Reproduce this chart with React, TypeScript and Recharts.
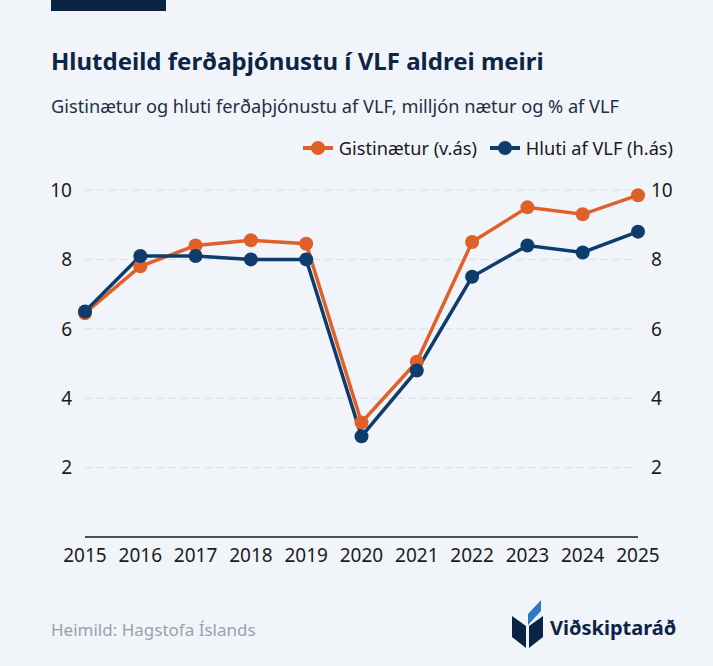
import React from 'react';
import { LineChart, Line, XAxis, YAxis, CartesianGrid } from 'recharts';

const years = ['2015', '2016', '2017', '2018', '2019', '2020', '2021', '2022', '2023', '2024', '2025'];
const gistinaetur = [6.45, 7.8, 8.4, 8.55, 8.45, 3.3, 5.05, 8.5, 9.5, 9.3, 9.85];
const hlutiVLF = [6.5, 8.1, 8.1, 8.0, 8.0, 2.9, 4.8, 7.5, 8.4, 8.2, 8.8];
const yTicks = [2, 4, 6, 8, 10];

const data = years.map((y, i) => ({ year: y, gist: gistinaetur[i], hluti: hlutiVLF[i] }));

const BG = '#f1f5fa';
const ORANGE = '#e0602a';
const BLUE = '#0e3d6d';
const NAVY = '#0d2447';
const FONT = '"Noto Sans", sans-serif';

const tickStyle = { fill: '#1b1b1b', fontSize: 19, fontFamily: FONT };

function LegendItem({ color, label }: { color: string; label: string }) {
  return (
    <div style={{ display: 'flex', alignItems: 'center', marginLeft: 12 }}>
      <svg width={32} height={16} style={{ marginRight: 5 }}>
        <line x1={1} y1={8} x2={31} y2={8} stroke={color} strokeWidth={4} />
        <circle cx={16} cy={8} r={7} fill={color} />
      </svg>
      <span>{label}</span>
    </div>
  );
}

export default function App() {
  return (
    <div style={{ position: 'absolute', left: 0, top: 0, width: 713, height: 666, background: BG, overflow: 'hidden', fontFamily: FONT }}>
      <div style={{ position: 'absolute', left: 51, top: 0, width: 115, height: 11, background: '#0b2444' }} />
      <div style={{ position: 'absolute', left: 51, top: 44, fontSize: 24, fontWeight: 700, color: NAVY, whiteSpace: 'nowrap' }}>
        Hlutdeild ferðaþjónustu í VLF aldrei meiri
      </div>
      <div style={{ position: 'absolute', left: 51, top: 94, fontSize: 18.2, color: '#1f2f45', whiteSpace: 'nowrap' }}>
        Gistinætur og hluti ferðaþjónustu af VLF, milljón nætur og % af VLF
      </div>
      <div style={{ position: 'absolute', right: 40, top: 136, display: 'flex', fontSize: 18.2, color: '#1b1b1b', whiteSpace: 'nowrap' }}>
        <LegendItem color={ORANGE} label="Gistinætur (v.ás)" />
        <LegendItem color={BLUE} label="Hluti af VLF (h.ás)" />
      </div>
      <div style={{ position: 'absolute', left: 0, top: 0 }}>
        <LineChart width={713} height={600} data={data} margin={{ top: 190, right: 0, bottom: 33, left: 0 }}>
          <CartesianGrid yAxisId="left" vertical={false} stroke="#d7dce3" strokeDasharray="7 5" />
          <XAxis
            dataKey="year"
            interval={0}
            tickLine={false}
            tickSize={0}
            tickMargin={12}
            axisLine={{ stroke: '#1b1b1b', strokeWidth: 1.5 }}
            tick={tickStyle}
            height={30}
          />
          <YAxis
            yAxisId="left"
            domain={[0, 10]}
            ticks={yTicks}
            axisLine={false}
            tickLine={false}
            tickSize={0}
            tickMargin={13}
            width={85}
            tick={tickStyle}
          />
          <YAxis
            yAxisId="right"
            orientation="right"
            domain={[0, 10]}
            ticks={yTicks}
            axisLine={false}
            tickLine={false}
            tickSize={0}
            tickMargin={13}
            width={75}
            tick={tickStyle}
          />
          <Line
            yAxisId="left"
            dataKey="gist"
            stroke={ORANGE}
            strokeWidth={3.5}
            dot={{ r: 7, fill: ORANGE, stroke: ORANGE, strokeWidth: 0 }}
            activeDot={false}
            isAnimationActive={false}
          />
          <Line
            yAxisId="right"
            dataKey="hluti"
            stroke={BLUE}
            strokeWidth={3.5}
            dot={{ r: 7, fill: BLUE, stroke: BLUE, strokeWidth: 0 }}
            activeDot={false}
            isAnimationActive={false}
          />
        </LineChart>
      </div>
      <div style={{ position: 'absolute', left: 51, top: 618, fontSize: 17, color: '#98a2ad', whiteSpace: 'nowrap' }}>
        Heimild: Hagstofa Íslands
      </div>
      <svg style={{ position: 'absolute', left: 505, top: 595 }} width={45} height={65}>
        <polygon points="7,21 21,31 21,53 7,42" fill="#0b2444" />
        <polygon points="24,31 38,21 38,42 24,53" fill="#0b2444" />
        <polygon points="23,30 23,19 36,5 36,16" fill="#2f78c4" />
      </svg>
      <div style={{ position: 'absolute', left: 550, top: 614, fontSize: 20, fontWeight: 700, color: NAVY, whiteSpace: 'nowrap' }}>
        Viðskiptaráð
      </div>
    </div>
  );
}
